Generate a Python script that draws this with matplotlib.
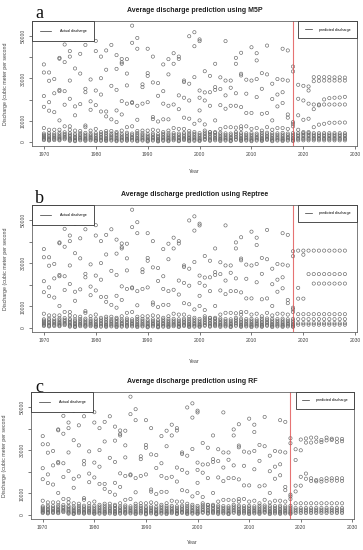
import matplotlib
matplotlib.use('Agg')
import matplotlib.pyplot as plt
from matplotlib.lines import Line2D

# ---- data (discharge in cubic meter per second) ----
hist_years = list(range(1970, 2019))

# upper points of each year
hist_high = [
    [36600, 32800, 21700, 16600, 6600],
    [32800, 28900, 18800, 14800, 5800],
    [29700, 23000, 14100, 5800],
    [39700, 39300, 24600, 24000, 10200, 5800],
    [46000, 37700, 24000, 17600, 7400],
    [42900, 40300, 29000, 20400, 7400, 5800],
    [48400, 34700, 16800, 12600, 5400],
    [41600, 32300, 17900, 5200],
    [45800, 25100, 23500, 7800, 7000],
    [29500, 19200, 15200, 5400],
    [47700, 42900, 24300, 17400, 6200],
    [40300, 30100, 22400, 14400, 4700],
    [43200, 34100, 14400, 12100, 5200],
    [45800, 26500, 10700, 5200],
    [41000, 34500, 24600, 14900, 9400, 4700],
    [39200, 37600, 36900, 19300, 13000, 5400],
    [39100, 32300, 26700, 18100, 7000],
    [54900, 46800, 18800, 18400, 7400],
    [49100, 44000, 17100, 10500, 5200],
    [27200, 25900, 18100, 5400],
    [44000, 32500, 31200, 18800, 5400],
    [40300, 28100, 11800, 10800, 5800],
    [27800, 21800, 9700, 5400],
    [36600, 24000, 18100, 10700, 4700],
    [39100, 31900, 17100, 10700, 5400],
    [41900, 36900, 17700, 6600],
    [40300, 39200, 22000, 15500, 6200],
    [29000, 28300, 20900, 11500, 6200],
    [49900, 27500, 19600, 11000, 5200],
    [51800, 45200, 30600, 8600, 4700],
    [48400, 47600, 24300, 20900, 14900, 10200],
    [33400, 23400, 19600, 8300, 5400],
    [31200, 23500, 17100, 4700],
    [36900, 25900, 24600, 10200, 4700],
    [30500, 25000, 17400, 6200],
    [47600, 29000, 22000, 15700, 7000],
    [29000, 25600, 17100, 7000],
    [39700, 36900, 23000, 17100, 6800],
    [42100, 32200, 31400, 16500, 7400, 6200],
    [29400, 22800, 13700, 7400],
    [44700, 29000, 13700, 6200],
    [41900, 38500, 29700, 21200, 6600],
    [32500, 25100, 13300, 5400],
    [45500, 31900, 13700, 7000],
    [27500, 20300, 10200, 5800],
    [29700, 22400, 16800, 6600],
    [44000, 29400, 23500, 18400, 6600],
    [43200, 29000, 13000, 11500, 6200],
    [35600, 33300, 9400, 8600, 7400],
]

# dense low-flow months of each year
hist_low = [
    [4000, 3400, 2900, 2300, 1800, 1300, 900],
    [4300, 3500, 2700, 2100, 1500, 1000, 700],
    [4100, 3300, 2600, 2000, 1400, 900],
    [4400, 3600, 2800, 2200, 1700, 1200, 800],
    [4600, 3800, 3100, 2400, 1800, 1300],
    [4200, 3500, 2800, 2100, 1500, 1000, 600],
    [3900, 3100, 2400, 1800, 1200, 700, 400],
    [4100, 3300, 2500, 1900, 1300, 800],
    [4300, 3500, 2800, 2100, 1500, 1000, 600],
    [4000, 3200, 2500, 1900, 1300, 800],
    [4200, 3400, 2600, 1900, 1300, 800, 500],
    [3900, 3100, 2400, 1700, 1100, 600],
    [4300, 3500, 2700, 2000, 1400, 900, 500],
    [4000, 3200, 2500, 1800, 1200, 700],
    [4100, 3300, 2600, 1900, 1300, 800, 400],
    [3900, 3100, 2300, 1700, 1100, 600],
    [4400, 3600, 2800, 2100, 1500, 1000, 600],
    [4000, 3200, 2400, 1800, 1200, 700],
    [4200, 3400, 2600, 1900, 1300, 800, 400],
    [4100, 3300, 2500, 1800, 1200, 700],
    [3800, 3000, 2300, 1700, 1100, 600, 300],
    [4000, 3200, 2400, 1800, 1200, 700],
    [3700, 2900, 2200, 1600, 1000, 500, 300],
    [3900, 3100, 2300, 1700, 1100, 600],
    [4100, 3300, 2500, 1900, 1300, 800, 400],
    [4200, 3400, 2600, 1900, 1300, 800],
    [4000, 3200, 2400, 1800, 1200, 700, 400],
    [4300, 3500, 2700, 2000, 1400, 900],
    [4100, 3300, 2500, 1900, 1300, 800, 400],
    [3900, 3100, 2300, 1700, 1100, 600],
    [4200, 3400, 2600, 1900, 1300, 800, 500],
    [4500, 3700, 2900, 2200, 1500, 1000],
    [4600, 3800, 3000, 2200, 1600, 1000, 600],
    [4200, 3400, 2600, 1900, 1300, 800],
    [4400, 3600, 2800, 2100, 1500, 1000, 500],
    [4100, 3300, 2500, 1800, 1200, 700],
    [4000, 3200, 2400, 1800, 1200, 700, 400],
    [4700, 3900, 3100, 2300, 1600, 1000],
    [4300, 3500, 2700, 2000, 1400, 900, 500],
    [4100, 3300, 2500, 1800, 1200, 700],
    [4200, 3400, 2600, 1900, 1300, 800, 400],
    [4000, 3200, 2400, 1800, 1200, 700],
    [4300, 3500, 2700, 2000, 1400, 900, 500],
    [4400, 3600, 2800, 2100, 1500, 1000],
    [4200, 3400, 2600, 1900, 1300, 800, 400],
    [4100, 3300, 2500, 1800, 1200, 700],
    [4300, 3500, 2700, 2000, 1400, 900, 500],
    [4000, 3200, 2400, 1800, 1200, 700],
    [4200, 3400, 2600, 1900, 1300, 800, 500],
]

pred_years = list(range(2019, 2029))

m5p_high = [
    [27000, 20400, 12600, 5800],
    [26500, 19600, 10500, 4700],
    [26200, 24300, 18100, 11000, 4700],
    [30600, 28700, 17700, 15500, 7000],
    [30600, 28900, 17700, 17300, 8200],
    [30600, 29000, 20100, 17700, 8600],
    [30600, 29000, 20700, 17700, 9100],
    [30500, 29000, 20900, 17700, 9100],
    [30500, 29000, 21000, 17700, 9200],
    [30400, 29000, 21300, 17700, 9200],
]
m5p_low = [4200, 3500, 2800, 2000, 1400, 800]

reptree_high = [
    [35900, 18600, 13600],
    [35900, 34000, 13600],
    [35900, 25000],
    [35900, 25000, 20600],
    [35900, 25000, 20600],
    [35900, 25000, 20600],
    [35900, 25000, 20600],
    [35900, 25000, 20600],
    [35900, 25000, 20600],
    [35900, 25000, 20600],
]
reptree_low = [6400, 4100, 2200, 1500]

rf_high = [
    [30500, 25500, 13600, 10900],
    [35000, 30000, 17700, 13600],
    [35500, 33600, 19200, 16800],
    [35900, 33600, 17000, 15800],
    [35900, 34000, 16200, 15600],
    [34800, 33800, 16600, 15500],
    [35900, 34600, 17000, 15800],
    [35400, 34800, 17000, 15900],
    [35400, 33800, 17100, 15900],
    [35300, 34200, 17000, 15800],
]
rf_low = [5400, 3200, 2400, 1600, 900]

panels = [
    ('a', 'Average discharge prediction using M5P', m5p_high, m5p_low),
    ('b', 'Average discharge prediction using Reptree', reptree_high, reptree_low),
    ('c', 'Average discharge prediction using RF', rf_high, rf_low),
]


def flatten(years, groups):
    xs, ys = [], []
    for yr, vals in zip(years, groups):
        xs += [yr] * len(vals)
        ys += list(vals)
    return xs, ys


plt.rcParams['font.family'] = ['Liberation Sans', 'DejaVu Sans']
fig = plt.figure(figsize=(3.63, 5.5), dpi=100)

# [left, bottom, width, height] of each panel, and letter/xlabel placement
boxes = [[0.088, 0.7345, 0.895, 0.2273],
         [0.088, 0.3964, 0.895, 0.2309],
         [0.085, 0.0564, 0.890, 0.2309]]
letter_y = [1 - 18 / 550, 1 - 203 / 550, 1 - 392 / 550]
year_y = [-0.185, -0.215, -0.165]

hx_hi, hy_hi = flatten(hist_years, hist_high)
hx_lo, hy_lo = flatten(hist_years, hist_low)

gray = '#666666'
for i, (letter, title, p_high, p_low) in enumerate(panels):
    ax = fig.add_axes(boxes[i])
    px_hi, py_hi = flatten(pred_years, p_high)
    px_lo, py_lo = flatten(pred_years, [p_low] * len(pred_years))
    xs = hx_hi + hx_lo + px_hi + px_lo
    ys = hy_hi + hy_lo + py_hi + py_lo
    ax.scatter(xs, ys, s=5.5, facecolors='none', edgecolors=gray, linewidths=0.45)
    ax.axvline(2018, color='#e05050', lw=0.8, alpha=0.8)
    ax.margins(x=0.04, y=0.04)
    ax.set_xlim(1967.7, 2030.3)

    ax.set_xticks([1970, 1980, 1990, 2000, 2010, 2020, 2030])
    ax.set_yticks([0, 10000, 20000, 30000, 40000, 50000])
    ax.set_yticklabels(['0', '10000', '', '30000', '', '50000'],
                       rotation=90, va='center')
    ax.tick_params(labelsize=3.6, length=2, width=0.5, colors='#444444', pad=2.5)
    for sp in ax.spines.values():
        sp.set_color('#666666')
        sp.set_linewidth(0.6)

    ax.set_title(title, fontsize=5, fontweight='bold', pad=6.5, color='#222222')
    ax.set_xlabel('Year', fontsize=3.8, color='#444444')
    ax.set_ylabel('Discharge (cubic meter per second', fontsize=3.8, color='#444444')
    ax.xaxis.set_label_coords(0.5, year_y[i])
    ax.yaxis.set_label_coords(-0.075, 0.5)

    leg1 = ax.legend(handles=[Line2D([], [], color='#333333', lw=0.5)],
                     labels=['Actual discharge'], loc='upper left',
                     bbox_to_anchor=(0, 1), borderaxespad=0, fontsize=2.6,
                     fancybox=False, edgecolor='#333333', framealpha=1,
                     handlelength=3, borderpad=2.2, handletextpad=2.5)
    leg1.get_frame().set_linewidth(0.6)
    ax.add_artist(leg1)
    leg2 = ax.legend(handles=[Line2D([], [], color='#333333', lw=0.5)],
                     labels=['predicted discharge'], loc='upper right',
                     bbox_to_anchor=(1, 1), borderaxespad=0, fontsize=2.6,
                     fancybox=False, edgecolor='#333333', framealpha=1,
                     handlelength=2, borderpad=1.8, handletextpad=1.8)
    leg2.get_frame().set_linewidth(0.6)

    fig.text(0.097, letter_y[i], letter, fontsize=13, family='Liberation Serif',
             va='baseline', color='#111111')

fig.savefig('out.png', dpi=100)
